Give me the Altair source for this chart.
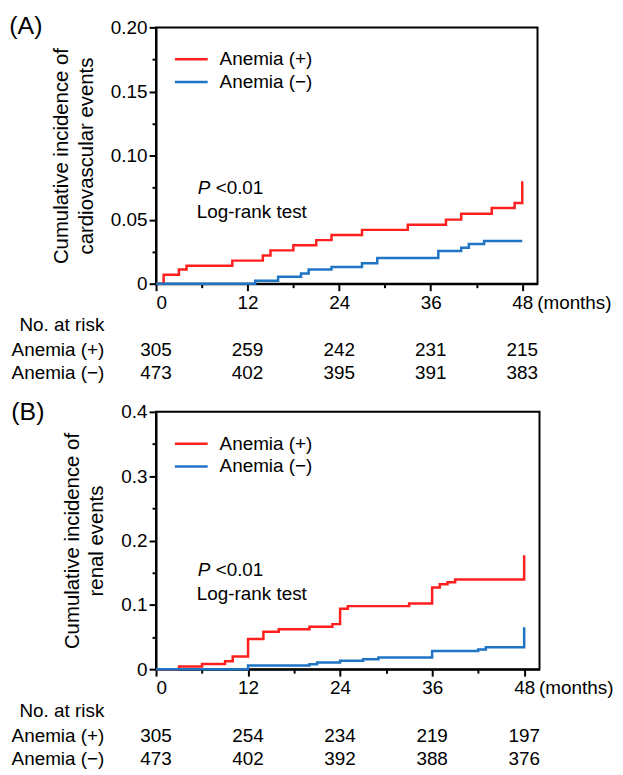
import altair as alt
import pandas as pd

# ---------------- data ----------------
groups = ["Anemia (+)", "Anemia (\u2212)"]
colors = ["#ff1f1f", "#1f74c4"]

# Panel A: cardiovascular events
a_pos_month = [0, 1, 3, 4, 10, 14, 15, 18, 21, 23, 27, 33, 38, 40, 44, 47, 48]
a_pos_cum = [0, 0.007, 0.011, 0.014, 0.018, 0.022, 0.026, 0.030, 0.034, 0.038,
             0.042, 0.046, 0.050, 0.0545, 0.059, 0.063, 0.080]
a_neg_month = [0, 13, 16, 19, 20, 23, 27, 29, 37, 40, 41, 43, 48]
a_neg_cum = [0, 0.0023, 0.0054, 0.008, 0.011, 0.013, 0.016, 0.020, 0.0256,
             0.028, 0.031, 0.0333, 0.0333]

# Panel B: renal events
b_pos_month = [0, 3, 6, 9, 10, 12, 14, 16, 20, 23, 24, 25, 33, 36, 37, 38, 39, 48]
b_pos_cum = [0, 0.004, 0.008, 0.0124, 0.0196, 0.047, 0.058, 0.062, 0.066, 0.070,
             0.094, 0.098, 0.102, 0.127, 0.132, 0.135, 0.1395, 0.177]
b_neg_month = [0, 12, 20, 21, 24, 27, 29, 36, 42, 43, 48]
b_neg_cum = [0, 0.0057, 0.0077, 0.0103, 0.013, 0.0154, 0.018, 0.0283, 0.0304,
             0.034, 0.065]

risk_months = [0, 12, 24, 36, 48]
a_risk_pos = [305, 259, 242, 231, 215]
a_risk_neg = [473, 402, 395, 391, 383]
b_risk_pos = [305, 254, 234, 219, 197]
b_risk_neg = [473, 402, 392, 388, 376]

x_ticks = [0, 6, 12, 18, 24, 30, 36, 42, 48]
a_y_ticks = [0, 0.025, 0.05, 0.075, 0.10, 0.125, 0.15, 0.175, 0.20]
b_y_ticks = [0, 0.05, 0.1, 0.15, 0.2, 0.25, 0.3, 0.35, 0.4]

FONT = "Liberation Sans"
FS = 19


def txt(text, x, y, align="left", size=FS, style="normal", baseline="middle"):
    return alt.Chart(pd.DataFrame({"t": [text]})).mark_text(
        fontSize=size, font=FONT, fontStyle=style, baseline=baseline, align=align, color="black"
    ).encode(x=alt.value(x), y=alt.value(y), text="t:N")


def panel(tag, title_lines, curves, risk_pos, risk_neg, y_max, y_ticks, y_major, y_fmt,
          W, H, tag_x, tag_y, leg_x, p_x, p_y):
    df = pd.concat(
        [pd.DataFrame({"month": m, "cum": c, "group": g}) for m, c, g in curves],
        ignore_index=True,
    )
    xscale = alt.Scale(domain=[0, 50], nice=False, zero=False)
    yscale = alt.Scale(domain=[0, y_max], nice=False)
    cscale = alt.Scale(domain=groups, range=colors)

    major = f"abs(datum.value / {y_major} - round(datum.value / {y_major})) < 1e-6"
    y_label = f"datum.value === 0 ? '0' : ({major} ? format(datum.value, '{y_fmt}') : '')"
    x_axis = alt.Axis(
        values=x_ticks,
        labelExpr="datum.value % 12 === 0 ? datum.label : ''",
        tickSize={"condition": {"test": "datum.value % 12 === 0", "value": 7}, "value": 4},
        labelPadding=3,
        title=None,
        grid=False,
    )
    y_axis = alt.Axis(
        values=y_ticks,
        labelExpr=y_label,
        tickSize={"condition": {"test": major, "value": 7}, "value": 4},
        labelPadding=2,
        title=title_lines,
        titlePadding=14,
        titleLineHeight=25,
        grid=False,
    )

    lines = alt.Chart(df).mark_line(interpolate="step-after", strokeWidth=2.5).encode(
        x=alt.X("month:Q", scale=xscale, axis=x_axis),
        y=alt.Y("cum:Q", scale=yscale, axis=y_axis),
        color=alt.Color("group:N", scale=cscale, legend=None),
    )

    # legend (key lines + labels)
    leg_layers = []
    for i, g in enumerate(groups):
        yy = 32 + 23 * i
        leg_layers.append(
            alt.Chart(pd.DataFrame({"group": [g]})).mark_rule(strokeWidth=2.5).encode(
                x=alt.value(leg_x), x2=alt.value(leg_x + 33), y=alt.value(yy),
                color=alt.Color("group:N", scale=cscale, legend=None),
            )
        )
        leg_layers.append(txt(g, leg_x + 45, yy))

    risk = pd.DataFrame({"month": risk_months, "pos": risk_pos, "neg": risk_neg})
    base_r = alt.Chart(risk)
    t_pos = base_r.mark_text(fontSize=FS, font=FONT, baseline="middle", align="center").encode(
        x=alt.X("month:Q", scale=xscale), y=alt.value(H + 67), text="pos:Q")
    t_neg = base_r.mark_text(fontSize=FS, font=FONT, baseline="middle", align="center").encode(
        x=alt.X("month:Q", scale=xscale), y=alt.value(H + 90), text="neg:Q")

    row_labels = [
        txt("No. at risk", -52, H + 42, align="right"),
        txt(groups[0], -52, H + 67, align="right"),
        txt(groups[1], -52, H + 90, align="right"),
    ]

    months = alt.Chart(pd.DataFrame({"month": [48], "t": ["(months)"]})).mark_text(
        fontSize=FS, font=FONT, baseline="top", align="left", dx=15
    ).encode(x=alt.X("month:Q", scale=xscale), y=alt.value(H + 10), text="t:N")

    extras = [
        txt(tag, tag_x, tag_y, align="center", size=25),
        txt("P", p_x, p_y, style="italic"),
        txt("<0.01", p_x + 18, p_y),
        txt("Log-rank test", p_x - 1, p_y + 24),
    ]

    return alt.layer(lines, *leg_layers, t_pos, t_neg, *row_labels, months, *extras).properties(
        width=W, height=H
    )


A = panel(
    "(A)",
    ["Cumulative incidence of", "cardiovascular events"],
    [(a_pos_month, a_pos_cum, groups[0]), (a_neg_month, a_neg_cum, groups[1])],
    a_risk_pos, a_risk_neg, 0.20, a_y_ticks, 0.05, ".2f",
    W=384, H=258, tag_x=-131, tag_y=-1, leg_x=19, p_x=42, p_y=162,
)
B = panel(
    "(B)",
    ["Cumulative incidence of", "renal events"],
    [(b_pos_month, b_pos_cum, groups[0]), (b_neg_month, b_neg_cum, groups[1])],
    b_risk_pos, b_risk_neg, 0.4, b_y_ticks, 0.1, ".1f",
    W=386, H=259, tag_x=-129, tag_y=0, leg_x=19, p_x=42, p_y=159,
)

chart = (
    alt.vconcat(A, B, spacing=15)
    .resolve_scale(color="independent")
    .configure_view(stroke="black", strokeWidth=2)
    .configure_axis(
        domainColor="black", domainWidth=2, tickColor="black", tickWidth=2,
        labelColor="black", labelFont=FONT, labelFontSize=FS,
        titleColor="black", titleFont=FONT, titleFontSize=20.5, titleFontWeight="normal",
    )
    .properties(padding={"left": 0, "top": 3, "right": 0, "bottom": 0})
)

chart.save("out.html", embed_options={"renderer": "svg", "actions": False})
